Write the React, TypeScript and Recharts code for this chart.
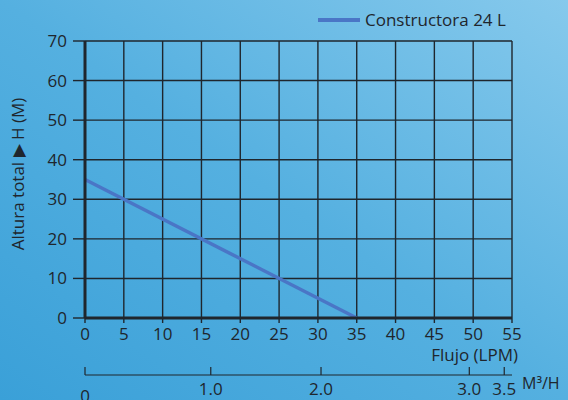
import { LineChart, Line, XAxis, YAxis, CartesianGrid, Legend } from 'recharts';

const seriesName = 'Constructora 24 L';
const flow = [0, 35];
const head = [35, 0];

const flowTicks = [0, 5, 10, 15, 20, 25, 30, 35, 40, 45, 50, 55];
const headTicks = [0, 10, 20, 30, 40, 50, 60, 70];

// m3/h scale under the chart, placed on the LPM scale as drawn in the picture
const m3hTickPos = [0, 16.2, 30.4, 49.5, 54.0];
const m3hLabels = ['0', '1.0', '2.0', '3.0', '3.5'];

const data = flow.map((f, i) => ({ flow: f, head: head[i] }));

const ink = '#1f262d';
const lineColor = '#4a76c6';
const font = '"Open Sans", Lato, sans-serif';

const HeadLabel = () => (
  <text
    x={24}
    y={174}
    transform="rotate(-90 24 174)"
    textAnchor="middle"
    fill={ink}
    fontSize={17}
    fontWeight={500}
    fontFamily={font}
  >
    Altura total  ▶  H (M)
  </text>
);

const FlowLabel = (props: any) => {
  const vb = props.viewBox || { x: 85, y: 318, width: 427 };
  return (
    <text
      x={vb.x + vb.width + 6}
      y={vb.y + 43}
      textAnchor="end"
      fill={ink}
      fontSize={17}
      fontWeight={500}
      fontFamily={font}
    >
      Flujo (LPM)
    </text>
  );
};

const M3hTick = (props: any) => {
  const { x, y, index } = props;
  return (
    <g>
      <line x1={x} x2={x} y1={y - 8} y2={y} stroke={ink} strokeWidth={1.2} />
      <text
        x={x}
        y={y}
        dy={index === 0 ? 27 : 20}
        textAnchor="middle"
        fill={ink}
        fontSize={17}
        fontWeight={500}
        fontFamily={font}
      >
        {m3hLabels[index]}
      </text>
    </g>
  );
};

const LegendContent = () => (
  <div style={{ display: 'flex', alignItems: 'center', fontFamily: font, fontWeight: 500 }}>
    <svg width={42} height={6}>
      <line x1={0} x2={42} y1={3} y2={3} stroke={lineColor} strokeWidth={4} />
    </svg>
    <span style={{ marginLeft: 5, fontSize: 17, color: ink }}>{seriesName}</span>
  </div>
);

const App = () => {
  return (
    <div
      style={{
        position: 'absolute',
        left: 0,
        top: 0,
        width: 568,
        height: 400,
        background: 'linear-gradient(to top right, #3aa0d8 0%, #55b0e0 50%, #86c9ec 100%)',
        overflow: 'hidden',
      }}
    >
      <LineChart
        width={568}
        height={400}
        data={data}
        margin={{ top: 41, right: 56, bottom: 0, left: 0 }}
      >
        <CartesianGrid stroke={ink} strokeWidth={1.4} />
        <XAxis
          dataKey="flow"
          type="number"
          domain={[0, 55]}
          ticks={flowTicks}
          height={57}
          axisLine={{ stroke: ink, strokeWidth: 3 }}
          tickLine={{ stroke: ink, strokeWidth: 1.4 }}
          tickSize={5}
          tickMargin={5}
          tick={{ fill: ink, fontSize: 17, fontWeight: 500, fontFamily: font }}
          interval={0}
          label={<FlowLabel />}
        />
        <XAxis
          xAxisId="m3h"
          dataKey="flow"
          type="number"
          domain={[0, 55]}
          allowDataOverflow
          ticks={m3hTickPos}
          height={25}
          axisLine={{ stroke: ink, strokeWidth: 1.2 }}
          tickLine={false}
          tickSize={0}
          tickMargin={0}
          tick={<M3hTick />}
          interval={0}
          label={{ value: 'M³/H', position: 'right', offset: 10, dy: -4, fill: ink, fontSize: 16, fontWeight: 500, fontFamily: font }}
        />
        <YAxis
          type="number"
          domain={[0, 70]}
          ticks={headTicks}
          width={85}
          axisLine={{ stroke: ink, strokeWidth: 3 }}
          tickLine={{ stroke: ink, strokeWidth: 1.4 }}
          tickSize={12}
          tickMargin={6}
          tick={{ fill: ink, fontSize: 17, fontWeight: 500, fontFamily: font }}
          interval={0}
          label={<HeadLabel />}
        />
        <Legend
          layout="horizontal"
          verticalAlign="middle"
          align="center"
          content={<LegendContent />}
          wrapperStyle={{ top: 8, left: 318, width: 'auto' }}
        />
        <Line
          type="linear"
          dataKey="head"
          name={seriesName}
          stroke={lineColor}
          strokeWidth={3.5}
          dot={false}
          isAnimationActive={false}
        />
      </LineChart>
    </div>
  );
};

export default App;
